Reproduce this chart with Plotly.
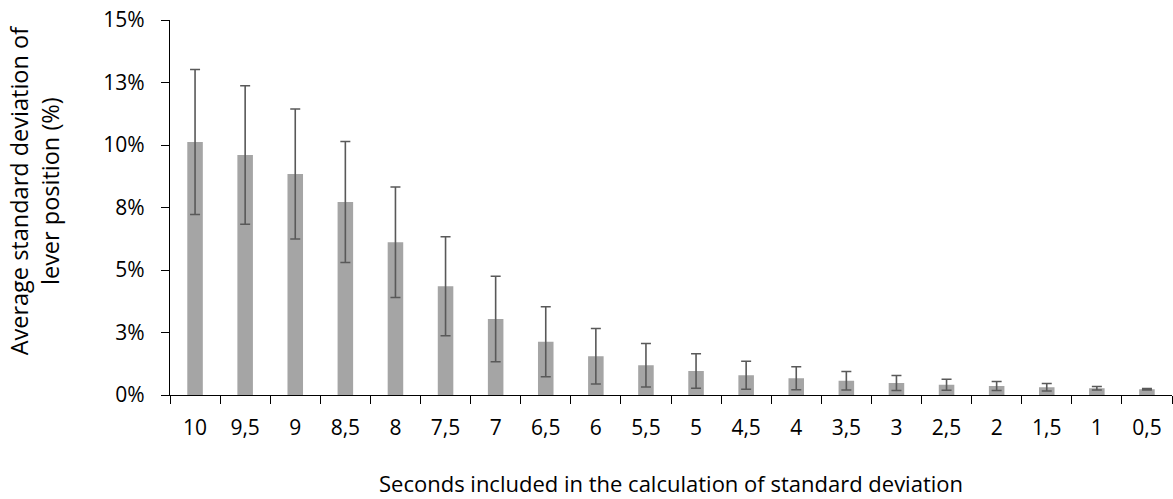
import plotly.graph_objects as go

categories = ["10", "9,5", "9", "8,5", "8", "7,5", "7", "6,5", "6", "5,5",
              "5", "4,5", "4", "3,5", "3", "2,5", "2", "1,5", "1", "0,5"]
mean_sd = [10.12, 9.6, 8.84, 7.72, 6.11, 4.35, 3.04, 2.13, 1.55, 1.19,
           0.96, 0.79, 0.67, 0.57, 0.48, 0.41, 0.36, 0.31, 0.27, 0.23]
err_sd = [2.9, 2.77, 2.6, 2.42, 2.21, 1.98, 1.71, 1.4, 1.11, 0.87,
          0.69, 0.56, 0.46, 0.37, 0.3, 0.22, 0.18, 0.15, 0.07, 0.03]
y_tickvals = [0, 2.5, 5, 7.5, 10, 12.5, 15]
y_ticktext = ["0%", "3%", "5%", "8%", "10%", "13%", "15%"]
x_title = "Seconds included in the calculation of standard deviation"
y_title = "Average standard deviation of<br>lever position (%)"

font_family = "Open Sans"
fs = 21

fig = go.Figure()
fig.add_trace(go.Bar(
    x=categories, y=mean_sd,
    marker=dict(color="#A5A5A5", line=dict(width=0)),
    width=0.31,
    error_y=dict(type="data", array=err_sd, visible=True,
                 color="#595959", thickness=1.6, width=5),
))

fig.add_annotation(
    text=y_title, textangle=-90,
    xref="paper", yref="paper",
    x=-0.135, y=0.545, xanchor="center", yanchor="middle",
    showarrow=False,
    font=dict(family=font_family, size=23.5, color="#000000"),
)

fig.update_layout(
    width=1173, height=499,
    margin=dict(l=170, r=1, t=20, b=104),
    plot_bgcolor="white", paper_bgcolor="white",
    showlegend=False,
    font=dict(family=font_family, size=fs, color="#000000"),
    xaxis=dict(
        type="category",
        tickson="boundaries",
        ticks="outside", ticklen=8, tickcolor="black", tickwidth=1.3,
        showline=True, linecolor="black", linewidth=1.3,
        showgrid=False,
        tickfont=dict(size=fs),
        ticklabelstandoff=14,
        title=dict(text=x_title, font=dict(size=22), standoff=36),
    ),
    yaxis=dict(
        range=[0, 15],
        tickvals=y_tickvals, ticktext=y_ticktext,
        ticks="outside", ticklen=8, tickcolor="black", tickwidth=1.3,
        showline=True, linecolor="black", linewidth=1.3,
        showgrid=False, zeroline=False,
        tickfont=dict(size=fs),
        ticklabelstandoff=12,
    ),
)

fig.write_html("out.html")
